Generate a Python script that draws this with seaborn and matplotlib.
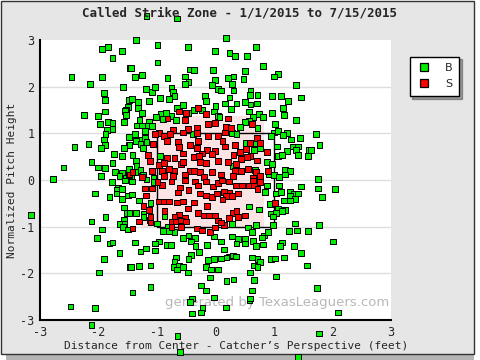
import matplotlib
matplotlib.use("Agg")
import matplotlib.pyplot as plt
from matplotlib.patches import Rectangle
from matplotlib.lines import Line2D
import pandas as pd
import seaborn as sns

# Balls (green): x = distance from center (ft), y = normalized height
ball_x = [
    -1.94, -1.84, -1.60, -1.76, -1.46, -2.46, -1.94, -2.15, -1.58, -1.91, -1.89, -1.48, -1.49, -1.53,
    -2.25, -2.01, -1.89, -1.55, -1.53, -1.98, -1.84, -1.76, -1.56, -1.76, -1.86, -1.88, -1.48, -1.91,
    -2.41, -2.17, -1.89, -1.96, -1.48, -1.56, -1.74, -1.60, -2.12, -1.76, -2.01, -1.89, -2.60, -1.48,
    -1.72, -1.60, -1.96, -2.78, -1.64, -1.53,
    -1.77, -1.55, -1.67, -1.69, -1.60, -1.69, -2.06, -1.50, -1.81, -1.60, -1.57, -1.52, -2.12, -1.88,
    -1.57, -1.57, -1.64, -1.58, -1.50, -1.94, -2.03, -1.81, -1.76, -1.64, -1.91, -1.46, -1.99, -2.48,
    -2.06, -2.12, -3.15,
    -0.65, -0.61, 1.41, 1.77, 2.09, 0.18, 0.58, -1.18, -0.66,
    -1.36, -0.99, -0.47, -0.01, -0.99, -1.45, -0.44, -0.37, -0.04, -1.38, -1.26, -0.82, -0.52, -0.01,
    -0.46, -0.52, -0.06, -1.19, -1.09, -1.04, -0.75, -0.73, 0.04, -1.43, -1.33, -1.14, -0.95, -0.80,
    -0.70, -0.18, -0.16, -0.56, -0.66, 0.00, -1.33, -1.26, -0.94, -0.85, -1.02, -0.75, -0.46, -0.37,
    -0.23, -0.03, 0.04, -1.30, -1.14, -0.90, -0.68, -1.35, -1.26, -1.16, -1.09, -1.21, -1.38, -0.39,
    -1.28, -1.21, -1.36, -1.18, -1.28, -1.47, -1.24, -1.42, -0.95, -1.36, -1.35, -1.28, -1.38, -1.06,
    -1.24, -1.45,
    0.18, 0.69, 0.24, 0.33, 0.54, 0.81, 0.50, 0.31, 0.21, 0.48, 1.07, 1.00, 1.38, 0.28, 0.09, 0.31,
    0.60, 0.59, 0.72, 0.96, 1.12, 1.46, 0.24, 0.50, 0.60, 0.71, 1.24, 0.16, 0.36, 0.26, 0.57, 1.15,
    0.96, 1.17, 0.74, 0.81, 0.07, 0.64, 0.57, 0.50, 0.42, 0.72, 1.02, 1.38, 0.28, 0.36, 1.00, 1.07,
    1.22, 0.95, 1.15, 1.29, 1.44, 1.32, 1.41, 1.05, 0.76, 1.38, 1.22, 0.52, 0.67, 0.66, 1.60, 1.07,
    1.14, 1.41, 1.58, 0.88, 0.96, 0.67, 1.19, 1.27, 0.91, 1.00, 1.08, 1.19, 0.30,
    1.72, 1.78, 1.63, 1.75,
    -1.43, -1.18, -1.06, -1.43, -1.31, -1.11, -1.36, -1.23, -1.23, -1.12, -1.47, -1.00, -0.87, -0.82,
    -0.90, -0.80, -0.70, -0.56, -0.46, -0.35, -0.42, -0.34, -0.15, -0.03, -1.38, -0.97, -1.04, -1.19,
    -1.28, -1.04, -0.83, -0.76, -0.42, -0.28, -0.68, -0.70, -0.46, -0.13, -0.03, -0.71, -0.63, -0.56,
    -0.66, -1.45, -1.31, -1.11, -0.16, -0.08, 0.04, -0.47, -0.10, -0.25, -1.11, -0.16, -1.42, -0.03,
    -0.40, -0.44, -0.22, -0.25, -0.40,
    0.88, 1.08, 1.46, 0.84, 1.03, 1.12, 1.27, 1.34, 1.41, 1.27, 1.36, 1.17, 1.27, 0.93, 0.57, 0.74,
    1.07, 1.19, 1.14, 0.95, 1.03, 0.98, 1.36, 0.28, 0.69, 0.98, 0.55, 0.62, 0.83, 0.90, 0.79, 1.26,
    1.39, 1.58, 0.09, 0.28, 0.38, 0.50, 0.36, 0.50, 0.64, 0.69, 0.81, 1.14, 1.10, 1.34, 0.14, 0.23,
    0.30, 0.35, 0.19, 0.09, 0.62, 0.72, 0.76, 0.95, 1.02, 1.17, 1.46, 0.66, 0.72, 1.56, 0.59, 1.03,
    0.31, 0.19, 0.66, 0.62, 0.59,
    1.75, 2.04, 1.82, 1.77, 2.01, 1.73,
]
ball_y = [
    2.80, 2.85, 2.77, 2.61, 2.40, 2.20, 2.20, 2.05, 1.99, 1.86, 1.71, 1.72, 1.57, 1.50,
    1.39, 1.37, 1.47, 1.48, 1.39, 1.20, 1.24, 1.22, 1.24, 1.09, 1.07, 0.98, 0.92, 0.87,
    0.70, 0.77, 0.75, 0.68, 0.75, 0.68, 0.55, 0.51, 0.38, 0.37, 0.27, 0.25, 0.27, 0.23,
    0.17, 0.15, 0.08, 0.02, 0.08, 0.04,
    -0.05, -0.01, -0.16, -0.22, -0.20, -0.29, -0.29, -0.33, -0.37, -0.40, -0.59, -0.70, -0.89, -0.80,
    -0.85, -0.93, -0.95, -1.00, -1.06, -1.06, -1.25, -1.36, -1.34, -1.57, -1.70, -1.87, -1.98, -2.71,
    -2.75, -3.10, -0.75,
    -3.34, -3.69, -3.80, -3.29, -2.84, -2.73, -2.57, 3.51, 3.46,
    3.00, 2.89, 2.85, 2.76, 2.52, 2.40, 2.37, 2.35, 2.35, 2.20, 2.25, 2.18, 2.22, 2.14,
    2.10, 2.05, 2.03, 1.95, 1.88, 1.99, 1.97, 1.88, 1.95, 1.73, 1.67, 1.69, 1.75, 1.73,
    1.80, 1.80, 1.69, 1.60, 1.54, 1.58, 1.54, 1.43, 1.41, 1.43, 1.35, 1.37, 1.43, 1.50,
    1.50, 1.47, 1.37, 1.28, 1.24, 1.30, 1.28, 1.17, 1.17, 1.15, 1.15, 1.05, 0.98, 0.98,
    0.87, 0.90, 0.83, 0.81, 0.77, 0.75, 0.68, 0.53, 0.51, 0.40, 0.30, 0.21, 0.17, 0.04,
    0.12, 0.06,
    3.04, 2.85, 2.72, 2.65, 2.65, 2.44, 2.33, 2.22, 2.18, 2.16, 2.27, 2.22, 2.03, 2.05, 1.92, 1.92,
    1.90, 1.82, 1.82, 1.80, 1.80, 1.77, 1.77, 1.67, 1.62, 1.64, 1.69, 1.64, 1.64, 1.52, 1.47, 1.54,
    1.43, 1.39, 1.41, 1.35, 1.35, 1.35, 1.26, 1.24, 1.13, 1.11, 1.20, 1.28, 1.00, 0.98, 1.02, 1.05,
    1.00, 0.94, 0.96, 0.87, 0.90, 0.72, 0.72, 0.72, 0.68, 0.64, 0.62, 0.79, 0.79, 0.64, 0.64, 0.51,
    0.53, 0.53, 0.51, 0.38, 0.34, 0.21, 0.21, 0.19, 0.12, 0.10, 0.06, 0.12, 0.30,
    0.98, 0.75, 0.64, 0.02,
    -0.03, 0.01, -0.05, -0.31, -0.44, -0.50, -0.70, -0.72, -0.80, -0.85, -0.70, -0.93, -0.78, -1.00,
    -1.10, -1.10, -1.12, -1.25, -1.19, -1.25, -1.32, -1.42, -1.40, -1.21, -1.34, -1.32, -1.36, -1.47,
    -1.53, -1.51, -1.40, -1.40, -1.60, -1.55, -1.66, -1.75, -1.70, -1.72, -1.70, -1.87, -1.85, -1.87,
    -1.92, -1.87, -1.85, -1.83, -1.87, -1.92, -1.92, -1.98, -2.09, -2.26, -2.30, -2.37, -2.41, -2.52,
    -2.54, -2.62, -2.75, -2.84, -2.86,
    -0.12, -0.12, -0.14, -0.25, -0.29, -0.25, -0.25, -0.29, -0.29, -0.33, -0.40, -0.44, -0.44, -0.52, -0.57, -0.63,
    -0.61, -0.65, -0.67, -0.72, -0.70, -0.78, -0.93, -0.95, -0.97, -0.97, -1.02, -1.12, -1.19, -1.12, -1.23, -1.10,
    -1.08, -1.10, -1.32, -1.21, -1.27, -1.27, -1.36, -1.36, -1.30, -1.42, -1.38, -1.34, -1.42, -1.42, -1.49, -1.64,
    -1.62, -1.64, -1.66, -1.68, -1.66, -1.70, -1.75, -1.70, -1.68, -1.66, -1.57, -1.83, -1.87, -1.83, -1.98, -2.07,
    -2.13, -2.17, -2.15, -2.37, -2.54,
    -0.18, -0.20, -0.37, -0.97, -1.32, -2.32,
]

# Called strikes (red)
strike_x = [
    -1.48,
    -0.30, -0.16, -0.63, -0.82, -0.51, -0.52, -0.13, -0.01, -0.47, -0.32, -0.56, -0.73, -0.97, -1.04,
    -0.88, -0.78, -0.32, -0.13, 0.04, -0.83, -0.64, -1.07, -0.30, -0.63, -0.44, -0.32, -0.15, -0.01,
    -0.56, -0.23, -1.16, -0.37, -0.28, -0.83, -0.70, -0.06, -1.12, -0.97, -0.88, -0.59, -0.56, -0.27,
    -0.16, 0.04, -0.80, -0.92, -0.70, -0.44, -0.37, -1.09, -1.47, -1.42, -0.88, -0.73, -0.52, -0.27,
    -0.06, -0.20, -1.26,
    0.21, 0.62, 0.18, 0.26, 0.16, 0.71, 0.59, 0.76, 0.12, 0.33, 0.52, 0.88, 0.42, 0.16, 0.31, 0.60,
    0.54, 0.43, 0.21, 0.35, 0.71, 0.55, 0.43, 0.33, 0.69, 0.90, 0.76, 0.30, 0.09, 0.64,
    -1.21, -1.09, -1.19, -0.92, -0.99, -0.75, -0.61, -0.64, -0.52, -0.35, -0.30, -0.16, -0.04, 0.04,
    -0.46, -0.27, -0.16, -0.06, 0.02, -0.97, -0.88, -0.80, -0.66, -0.56, -0.47, -0.30, -0.63, -0.70,
    -0.52, -0.75, -0.68, -0.59, -0.51, -0.75, -0.59, -0.32, -0.23, -0.10, -0.20, -0.11, -0.01, -0.01,
    -1.11, -1.11, -1.23, -1.14, -1.31, -1.42, -0.87, -0.37, -0.15, 0.04,
    0.11, 0.23, 0.35, 0.45, 0.57, 0.66, 0.76, 0.64, 0.72, 0.14, 0.24, 0.38, 0.18, 0.28, 0.12, 1.02,
    0.30, 0.38, 0.50, 0.23, 0.36, 0.14, 0.09,
]
strike_y = [
    0.10,
    1.54, 1.41, 1.47, 1.32, 1.43, 1.28, 1.20, 1.22, 1.09, 1.11, 1.02, 1.07, 1.00, 0.98,
    0.94, 0.98, 1.00, 0.94, 0.94, 0.83, 0.81, 0.77, 0.83, 0.70, 0.75, 0.68, 0.64, 0.62,
    0.57, 0.57, 0.53, 0.49, 0.51, 0.47, 0.47, 0.55, 0.40, 0.32, 0.36, 0.34, 0.38, 0.38,
    0.36, 0.40, 0.23, 0.19, 0.19, 0.19, 0.19, 0.19, 0.12, 0.17, 0.08, 0.08, 0.12, 0.17,
    0.17, 0.06, 0.06,
    1.32, 1.20, 1.13, 1.11, 1.02, 0.90, 0.79, 0.79, 0.83, 0.75, 0.66, 0.60, 0.60, 0.72, 0.53, 0.51,
    0.49, 0.45, 0.38, 0.34, 0.42, 0.23, 0.19, 0.19, 0.17, 0.19, 0.08, 0.08, 0.12, 0.04,
    -0.18, -0.18, -0.33, -0.10, -0.05, -0.03, -0.16, -0.27, -0.01, -0.03, -0.12, -0.03, -0.14, -0.07,
    -0.22, -0.29, -0.33, -0.37, -0.29, -0.46, -0.46, -0.46, -0.48, -0.46, -0.61, -0.70, -0.74, -0.78,
    -0.82, -0.89, -0.89, -0.87, -0.89, -1.00, -1.00, -1.04, -1.08, -1.12, -0.76, -0.76, -0.76, -1.02,
    -0.80, -0.91, -0.55, -0.65, -0.89, -1.04, -0.67, -0.48, -0.55, -0.87,
    -0.01, -0.03, -0.12, -0.12, -0.12, -0.10, -0.05, -0.01, -0.20, -0.25, -0.27, -0.29, -0.35, -0.35, -0.42, -0.50,
    -0.70, -0.80, -0.76, -0.82, -0.67, -0.97, -0.91,
]

pitches = pd.concat([
    pd.DataFrame({"x": ball_x, "y": ball_y, "call": "B"}),
    pd.DataFrame({"x": strike_x, "y": strike_y, "call": "S"}),
], ignore_index=True)
colors = {"B": "#00ee00", "S": "#ff0000"}

sns.set_theme(style="white")
plt.rcParams["font.family"] = ["DejaVu Sans Mono", "DejaVu Sans"]
plt.rcParams["axes.unicode_minus"] = False

fig = plt.figure(figsize=(4.8, 3.6), dpi=100, facecolor="white")

# panel background with drop shadow
fig.patches.append(Rectangle((6 / 480, 0), 468 / 480, 1 - 6 / 360, transform=fig.transFigure,
                             facecolor="#b4b4b4", edgecolor="none", zorder=-3))
fig.patches.append(Rectangle((0.5 / 480, 6 / 360), 473 / 480, 1 - 6.5 / 360, transform=fig.transFigure,
                             facecolor="#e6e6e6", edgecolor="#333333", linewidth=1, zorder=-2))

ax = fig.add_axes([40 / 480, 40 / 360, 351 / 480, 280 / 360])
ax.set_facecolor("white")

# zone shapes
ax.add_patch(Rectangle((-1.27, -1.0), 2.10, 2.37, facecolor="#fde4e4", edgecolor="none", zorder=0))
ax.add_patch(Rectangle((-1.0, -1.0), 2.0, 2.0, facecolor="none", edgecolor="black", linewidth=1, zorder=1))
for yy in [-2, -1, 0, 1, 2]:
    ax.axhline(yy, color="#dddddd", linewidth=1, zorder=0.5)

sns.scatterplot(data=pitches, x="x", y="y", hue="call", palette=colors, marker="s", s=17,
                edgecolor="black", linewidth=0.7, legend=False, clip_on=False, zorder=3, ax=ax)

ax.set_xlim(-3, 3)
ax.set_ylim(-3, 3)
ax.set_xticks(range(-3, 4))
ax.set_yticks(range(-3, 4))
for side in ["top", "right"]:
    ax.spines[side].set_visible(False)
for side in ["left", "bottom"]:
    ax.spines[side].set_color("black")
    ax.spines[side].set_linewidth(1.5)
ax.tick_params(direction="in", length=4, width=1.2, color="black", labelsize=8.5, pad=4)
ax.set_xlabel("")
ax.set_ylabel("Normalized Pitch Height", fontsize=8, labelpad=2)

ax.text(2.97, -2.62, "generated by TexasLeaguers.com", ha="right", va="center",
        fontsize=9.5, color="#b8b8b8", family="DejaVu Sans", zorder=2)

fig.text(0.5, 1 - 13 / 360, "Called Strike Zone - 1/1/2015 to 7/15/2015", ha="center", va="center",
         fontsize=9, fontweight="bold")
fig.text(236 / 480, 1 - 346 / 360, "Distance from Center - Catcher\u2019s Perspective (feet)",
         ha="center", va="center", fontsize=8)

handles = [Line2D([], [], marker="s", linestyle="none", markersize=5.5, markerfacecolor=colors[k],
                  markeredgecolor="black", markeredgewidth=0.9) for k in ["B", "S"]]
leg = fig.legend(handles, ["B", "S"], loc="upper left", bbox_to_anchor=(404 / 480, 1 - 51 / 360),
                 frameon=True, fancybox=False, shadow=True, edgecolor="black", framealpha=1,
                 handlelength=1.4, handletextpad=1.2, borderpad=0.6, labelspacing=0.55,
                 prop={"family": "DejaVu Sans", "size": 8})
leg.get_frame().set_linewidth(1)

fig.savefig("out.png", dpi=100, facecolor=fig.get_facecolor())
